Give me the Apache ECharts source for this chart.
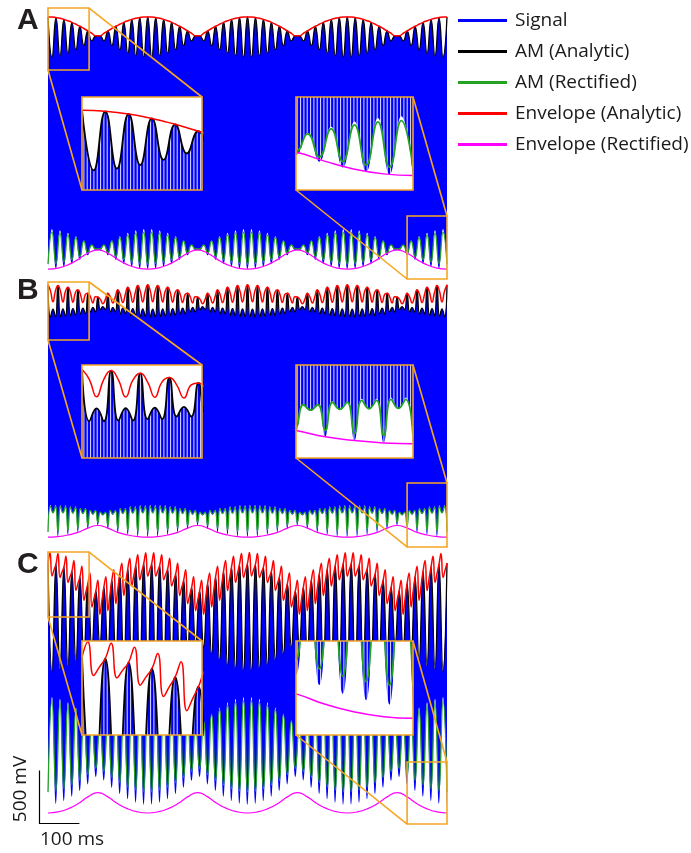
<!DOCTYPE html>
<html>
<head>
<meta charset="utf-8">
<script src="https://cdn.jsdelivr.net/npm/echarts@6/dist/echarts.min.js"></script>
<style>
html,body{margin:0;padding:0;background:#fff}
#main{width:691px;height:853px}
</style>
</head>
<body>
<div id="main"></div>
<script>
// ---- Panel A (mV), AM and envelopes sampled every 10 ms ----
const stepA = 10;
const amA = [
 1190,812,1184,823,1167,846,1139,879,1102,919,1059,964,1012,1012,964,1059,919,1102,879,1139,
 846,1167,823,1184,812,1190,812,1184,823,1167,846,1139,879,1102,919,1059,964,1012,1012,964,
 1059,919,1102,879,1139,846,1167,823,1184,812,1190,
 812,1184,823,1167,846,1139,879,1102,919,1059,964,1012,1012,964,1059,919,1102,879,1139,846,
 1167,823,1184,812,1190,812,1184,823,1167,846,1139,879,1102,919,1059,964,1012,1012,964,1059,
 919,1102,879,1139,846,1167,823,1184,812,1190];
const envA = [
 1190,1189,1184,1177,1167,1154,1139,1121,1102,1081,1059,1036,1012,1012,1036,1059,1081,1102,1121,1139,1154,1167,1177,1184,1189,1190,
 1189,1184,1177,1167,1154,1139,1121,1102,1081,1059,1036,1012,1012,1036,1059,1081,1102,1121,1139,1154,1167,1177,1184,1189,1190,
 1189,1184,1177,1167,1154,1139,1121,1102,1081,1059,1036,1012,1012,1036,1059,1081,1102,1121,1139,1154,1167,1177,1184,1189,1190,
 1189,1184,1177,1167,1154,1139,1121,1102,1081,1059,1036,1012,1012,1036,1059,1081,1102,1121,1139,1154,1167,1177,1184,1189,1190];
const rectA = [
 -1142,-840,-1137,-848,-1124,-867,-1101,-893,-1072,-925,-1037,-961,-1000,-1000,-961,-1037,-925,-1072,-893,-1101,
 -867,-1124,-848,-1137,-840,-1142,-840,-1137,-848,-1124,-867,-1101,-893,-1072,-925,-1037,-961,-1000,-1000,-961,
 -1037,-925,-1072,-893,-1101,-867,-1124,-848,-1137,-840,-1142,
 -840,-1137,-848,-1124,-867,-1101,-893,-1072,-925,-1037,-961,-1000,-1000,-961,-1037,-925,-1072,-893,-1101,-867,
 -1124,-848,-1137,-840,-1142,-840,-1137,-848,-1124,-867,-1101,-893,-1072,-925,-1037,-961,-1000,-1000,-961,-1037,
 -925,-1072,-893,-1101,-867,-1124,-848,-1137,-840,-1142];
const envRectStepA = 25;
const envRectA = [
 -1190,-1180,-1150,-1100,-1040,-1008,-1040,-1100,-1150,-1180,
 -1190,-1180,-1150,-1100,-1040,-1008,-1040,-1100,-1150,-1180,
 -1190,-1180,-1150,-1100,-1040,-1008,-1040,-1100,-1150,-1180,
 -1190,-1180,-1150,-1100,-1040,-1008,-1040,-1100,-1150,-1180,-1190];

// ---- Panel B (mV), sampled every 6.25 ms ----
const stepB = 6.25;
const amB = [
 1190,886,962,886, 1184,890,963,890, 1168,899,966,899, 1143,914,971,914, 1111,933,978,933,
 1075,955,985,955, 1111,933,978,933, 1143,914,971,914, 1168,899,966,899, 1184,890,963,890,
 1190,886,962,886, 1184,890,963,890, 1168,899,966,899, 1143,914,971,914, 1111,933,978,933,
 1075,955,985,955, 1111,933,978,933, 1143,914,971,914, 1168,899,966,899, 1184,890,963,890,
 1190,886,962,886, 1184,890,963,890, 1168,899,966,899, 1143,914,971,914, 1111,933,978,933,
 1075,955,985,955, 1111,933,978,933, 1143,914,971,914, 1168,899,966,899, 1184,890,963,890,
 1190,886,962,886, 1184,890,963,890, 1168,899,966,899, 1143,914,971,914, 1111,933,978,933,
 1075,955,985,955, 1111,933,978,933, 1143,914,971,914, 1168,899,966,899, 1184,890,963,890,
 1190];
const envB = [
 1190,1133,1030,1133, 1184,1129,1029,1129, 1168,1118,1027,1118, 1143,1100,1023,1100, 1111,1078,1018,1078,
 1075,1053,1012,1053, 1111,1078,1018,1078, 1143,1100,1023,1100, 1168,1118,1027,1118, 1184,1129,1029,1129,
 1190,1133,1030,1133, 1184,1129,1029,1129, 1168,1118,1027,1118, 1143,1100,1023,1100, 1111,1078,1018,1078,
 1075,1053,1012,1053, 1111,1078,1018,1078, 1143,1100,1023,1100, 1168,1118,1027,1118, 1184,1129,1029,1129,
 1190,1133,1030,1133, 1184,1129,1029,1129, 1168,1118,1027,1118, 1143,1100,1023,1100, 1111,1078,1018,1078,
 1075,1053,1012,1053, 1111,1078,1018,1078, 1143,1100,1023,1100, 1168,1118,1027,1118, 1184,1129,1029,1129,
 1190,1133,1030,1133, 1184,1129,1029,1129, 1168,1118,1027,1118, 1143,1100,1023,1100, 1111,1078,1018,1078,
 1075,1053,1012,1053, 1111,1078,1018,1078, 1143,1100,1023,1100, 1168,1118,1027,1118, 1184,1129,1029,1129,
 1190];
const rectB = [
 -1142,-899,-960,-899, -1137,-902,-961,-902, -1124,-909,-963,-909, -1104,-921,-967,-921, -1079,-937,-972,-937,
 -1050,-954,-978,-954, -1079,-937,-972,-937, -1104,-921,-967,-921, -1124,-909,-963,-909, -1137,-902,-961,-902,
 -1142,-899,-960,-899, -1137,-902,-961,-902, -1124,-909,-963,-909, -1104,-921,-967,-921, -1079,-937,-972,-937,
 -1050,-954,-978,-954, -1079,-937,-972,-937, -1104,-921,-967,-921, -1124,-909,-963,-909, -1137,-902,-961,-902,
 -1142,-899,-960,-899, -1137,-902,-961,-902, -1124,-909,-963,-909, -1104,-921,-967,-921, -1079,-937,-972,-937,
 -1050,-954,-978,-954, -1079,-937,-972,-937, -1104,-921,-967,-921, -1124,-909,-963,-909, -1137,-902,-961,-902,
 -1142,-899,-960,-899, -1137,-902,-961,-902, -1124,-909,-963,-909, -1104,-921,-967,-921, -1079,-937,-972,-937,
 -1050,-954,-978,-954, -1079,-937,-972,-937, -1104,-921,-967,-921, -1124,-909,-963,-909, -1137,-902,-961,-902,
 -1142];
const envRectStepB = 25;
const envRectB = [
 -1190,-1185,-1170,-1145,-1105,-1080,-1105,-1145,-1170,-1185,
 -1190,-1185,-1170,-1145,-1105,-1080,-1105,-1145,-1170,-1185,
 -1190,-1185,-1170,-1145,-1105,-1080,-1105,-1145,-1170,-1185,
 -1190,-1185,-1170,-1145,-1105,-1080,-1105,-1145,-1170,-1185,-1190];

// ---- Panel C (mV): AM every 10 ms, analytic envelope every 5 ms ----
const stepC = 10;
const amC = [
 1140,122,1131,140,1105,173,1064,222,1010,281,947,348,878,382,912,313,979,250,1038,196,
 1087,155,1120,129,1138,120,1138,129,1120,155,1087,196,1038,250,979,313,912,382,878,348,
 947,281,1010,222,1064,173,1105,140,1131,122,1140,
 122,1131,140,1105,173,1064,222,1010,281,947,348,878,382,912,313,979,250,1038,196,1087,
 155,1120,129,1138,120,1138,129,1120,155,1087,196,1038,250,979,313,912,382,878,348,947,
 281,1010,222,1064,173,1105,140,1131,122,1140];
const envStepC = 5;
const envC = [
 1140,1240,1020,1076, 1131,1231,1004,1055, 1105,1205,957,1011, 1064,1164,883,947, 1010,1110,790,869,
 947,1047,727,803, 878,978,658,785, 912,1012,692,836, 979,1079,759,899, 1038,1138,836,962,
 1087,1187,925,1023, 1120,1220,984,1061, 1138,1238,1016,1077, 1138,1238,1016,1068, 1120,1220,984,1036,
 1087,1187,925,982, 1038,1138,836,908, 979,1079,759,836, 912,1012,692,785, 878,978,658,803,
 947,1047,727,869, 1010,1110,790,927, 1064,1164,883,994, 1105,1205,957,1044, 1131,1231,1004,1072,
 1140,1240,1020,1076, 1131,1231,1004,1055, 1105,1205,957,1011, 1064,1164,883,947, 1010,1110,790,869,
 947,1047,727,803, 878,978,658,785, 912,1012,692,836, 979,1079,759,899, 1038,1138,836,962,
 1087,1187,925,1023, 1120,1220,984,1061, 1138,1238,1016,1077, 1138,1238,1016,1068, 1120,1220,984,1036,
 1087,1187,925,982, 1038,1138,836,908, 979,1079,759,836, 912,1012,692,785, 878,978,658,803,
 947,1047,727,869, 1010,1110,790,927, 1064,1164,883,994, 1105,1205,957,1044, 1131,1231,1004,1072,
 1140];
const rectC = [
 -1019,-154,-1011,-169,-989,-197,-954,-239,-909,-289,-855,-346,-796,-375,-825,-316,-882,-263,-932,-217,
 -974,-182,-1002,-160,-1017,-152,-1017,-160,-1002,-182,-974,-217,-932,-263,-882,-316,-825,-375,-796,-346,
 -855,-289,-909,-239,-954,-197,-989,-169,-1011,-154,-1019,
 -154,-1011,-169,-989,-197,-954,-239,-909,-289,-855,-346,-796,-375,-825,-316,-882,-263,-932,-217,-974,
 -182,-1002,-160,-1017,-152,-1017,-160,-1002,-182,-974,-217,-932,-263,-882,-316,-825,-375,-796,-346,-855,
 -289,-909,-239,-954,-197,-989,-169,-1011,-154,-1019];
const envRectStepC = 25;
const envRectC = [
 -1217,-1207,-1178,-1130,-1065,-1025,-1065,-1130,-1178,-1207,
 -1217,-1207,-1178,-1130,-1065,-1025,-1065,-1130,-1178,-1207,
 -1217,-1207,-1178,-1130,-1065,-1025,-1065,-1130,-1178,-1207,
 -1217,-1207,-1178,-1130,-1065,-1025,-1065,-1130,-1178,-1207,-1217];

// Magnified windows: [t0, t1] in ms and [v0, v1] in mV
const zoomWindowsA = [[[0, 103], [689, 1274]], [[900, 1000], [-1283, -689]]];
const zoomWindowsB = [[[0, 103], [670, 1217]], [[900, 1000], [-1283, -679]]];
const zoomWindowsC = [[[0, 103], [632, 1245]], [[900, 1000], [-1321, -736]]];

const seriesNames = ['Signal', 'AM (Analytic)', 'AM (Rectified)', 'Envelope (Analytic)', 'Envelope (Rectified)'];
const scaleBarMs = 100, scaleBarMv = 500;

// ---- layout & style ----
const COL = {signal:'#0000ff', am:'#000000', rect:'#22a322', env:'#ff0000', envRect:'#ff00ff', zoom:'#f5a623'};
const PX_PER_MV = 0.106, HALF_MV = 1350, DUR = 1000;
const MAIN_LEFT = 48, MAIN_W = 399;
const panels = [
  {label:'A', center:143, labelY:21, am:amA, amStep:stepA, env:envA, envStep:stepA, rect:rectA, rectStep:stepA,
   envRect:envRectA, envRectStep:envRectStepA, windows:zoomWindowsA, insetRects:[[82,97,120,93],[296,97,117,93]]},
  {label:'B', center:411, labelY:291, am:amB, amStep:stepB, env:envB, envStep:stepB, rect:rectB, rectStep:stepB,
   envRect:envRectB, envRectStep:envRectStepB, windows:zoomWindowsB, insetRects:[[82,365,120,93],[296,365,117,93]]},
  {label:'C', center:684, labelY:565, am:amC, amStep:stepC, env:envC, envStep:envStepC, rect:rectC, rectStep:stepC,
   envRect:envRectC, envRectStep:envRectStepC, windows:zoomWindowsC, insetRects:[[82,641,120,94],[296,641,117,94]]}
];

// carrier texture used inside the magnified views
function carrierTexture() {
  const c = document.createElement('canvas');
  c.width = 10; c.height = 4;
  const g = c.getContext('2d');
  g.fillStyle = COL.signal; g.fillRect(0, 0, 10, 4);
  g.fillStyle = 'rgba(255,255,255,0.8)';
  [0, 3.33, 6.67].forEach(x => g.fillRect(x, 0, 1.1, 4));
  return c;
}
const texture = carrierTexture();

const toPts = (arr, step) => arr.map((v, i) => [i * step, v]);

const grid = [], xAxis = [], yAxis = [], series = [];
const windowInfo = [];

function addPanelSeries(p, axisIdx, inset) {
  const z0 = inset ? 11 : 2;
  const lw = inset ? 1.8 : 1.3;
  const base = {type:'line', xAxisIndex:axisIdx, yAxisIndex:axisIdx, smooth:0.5, symbol:'none', silent:true, animation:false};
  const am = toPts(p.am, p.amStep);
  series.push(Object.assign({}, base, {name:'Signal', data:am, z:z0,
    itemStyle:{color:COL.signal}, lineStyle:{width:0, color:COL.signal},
    areaStyle:{origin:'start', opacity:1, color: inset ? {image:texture, repeat:'repeat'} : COL.signal}}));
  // the carrier swings symmetrically between -AM and +AM
  series.push(Object.assign({}, base, {name:'Signal lower bound', data:toPts(p.am.map(v => -v), p.amStep), z:z0,
    itemStyle:{color:'#fff'}, lineStyle:{width:0}, areaStyle:{origin:'start', opacity:1, color:'#ffffff'}}));
  series.push(Object.assign({}, base, {name:'AM (Rectified)', data:toPts(p.rect, p.rectStep), z:z0,
    itemStyle:{color:COL.rect}, lineStyle:{width:lw, color:COL.rect}}));
  series.push(Object.assign({}, base, {name:'Envelope (Rectified)', data:toPts(p.envRect, p.envRectStep), z:z0,
    itemStyle:{color:COL.envRect}, lineStyle:{width:inset ? 1.5 : 1.2, color:COL.envRect}}));
  series.push(Object.assign({}, base, {name:'AM (Analytic)', data:am, z:z0,
    itemStyle:{color:COL.am}, lineStyle:{width:lw, color:COL.am}}));
  series.push(Object.assign({}, base, {name:'Envelope (Analytic)', data:toPts(p.env, p.envStep), z:z0,
    itemStyle:{color:COL.env}, lineStyle:{width:1.5, color:COL.env}}));
}

panels.forEach(p => {
  const mainIdx = grid.length;
  grid.push({left:MAIN_LEFT, top:p.center - HALF_MV * PX_PER_MV, width:MAIN_W, height:2 * HALF_MV * PX_PER_MV});
  xAxis.push({type:'value', gridIndex:mainIdx, min:0, max:DUR, show:false});
  yAxis.push({type:'value', gridIndex:mainIdx, min:-HALF_MV, max:HALF_MV, show:false});
  addPanelSeries(p, mainIdx, false);
  p.mainIdx = mainIdx;
  p.windows.forEach((w, wi) => {
    const idx = grid.length;
    const r = p.insetRects[wi];
    grid.push({left:r[0], top:r[1], width:r[2], height:r[3], show:true, z:10, backgroundColor:'#ffffff', borderWidth:0});
    xAxis.push({type:'value', gridIndex:idx, min:w[0][0], max:w[0][1], show:false});
    yAxis.push({type:'value', gridIndex:idx, min:w[1][0], max:w[1][1], show:false});
    addPanelSeries(p, idx, true);
    windowInfo.push({main:mainIdx, inset:idx, w:w});
  });
});

const option = {
  animation:false,
  backgroundColor:'#ffffff',
  grid, xAxis, yAxis, series,
  legend:{
    orient:'vertical', left:453, top:6, itemWidth:49, itemHeight:3, itemGap:12, icon:'rect',
    selectedMode:false, data:seriesNames,
    textStyle:{fontFamily:'Open Sans', fontSize:19, color:'#1a1a1a', padding:[0,0,0,3]}
  }
};

const chart = echarts.init(document.getElementById('main'), null, {renderer:'canvas'});
chart.setOption(option);

// zoom boxes, connectors, panel letters and scale bar
const px = (ax, t, v) => chart.convertToPixel({xAxisIndex:ax, yAxisIndex:ax}, [t, v]);
const graphic = [];
windowInfo.forEach(info => {
  const [t, v] = info.w;
  const bTL = px(info.main, t[0], v[1]), bBR = px(info.main, t[1], v[0]);
  const iTL = px(info.inset, t[0], v[1]), iBR = px(info.inset, t[1], v[0]);
  const stroke = {stroke:COL.zoom, lineWidth:1.6, fill:null};
  graphic.push({type:'rect', z:8, silent:true, shape:{x:bTL[0], y:bTL[1], width:bBR[0]-bTL[0], height:bBR[1]-bTL[1]}, style:stroke});
  graphic.push({type:'line', z:8, silent:true, shape:{x1:bBR[0], y1:bTL[1], x2:iBR[0], y2:iTL[1]}, style:stroke});
  graphic.push({type:'line', z:8, silent:true, shape:{x1:bTL[0], y1:bBR[1], x2:iTL[0], y2:iBR[1]}, style:stroke});
  graphic.push({type:'rect', z:30, silent:true, shape:{x:iTL[0], y:iTL[1], width:iBR[0]-iTL[0], height:iBR[1]-iTL[1]}, style:stroke});
});
panels.forEach(p => {
  graphic.push({type:'text', z:30, silent:true, x:17, y:p.labelY,
    style:{text:p.label, font:'bold 30px "Liberation Sans", Arial, sans-serif', fill:'#231f20', textVerticalAlign:'middle'}});
});
const cIdx = panels[2].mainIdx;
const o = px(cIdx, 0, 0), dx = px(cIdx, scaleBarMs, 0)[0] - o[0], dy = o[1] - px(cIdx, 0, scaleBarMv)[1];
const corner = [39.5, 823.5];
graphic.push({type:'polyline', z:30, silent:true, shape:{points:[[corner[0], corner[1] - dy], corner, [corner[0] + dx, corner[1]]]},
  style:{stroke:'#000', lineWidth:1.2, fill:null}});
graphic.push({type:'text', z:30, silent:true, x:21, y:corner[1] - dy / 2 - 8, rotation:Math.PI / 2,
  style:{text:scaleBarMv + ' mV', font:'19px "Open Sans", sans-serif', fill:'#1a1a1a', textAlign:'center', textVerticalAlign:'middle'}});
graphic.push({type:'text', z:30, silent:true, x:40, y:840,
  style:{text:scaleBarMs + ' ms', font:'19px "Open Sans", sans-serif', fill:'#1a1a1a', textAlign:'left', textVerticalAlign:'middle'}});
chart.setOption({graphic});
</script>
</body>
</html>
